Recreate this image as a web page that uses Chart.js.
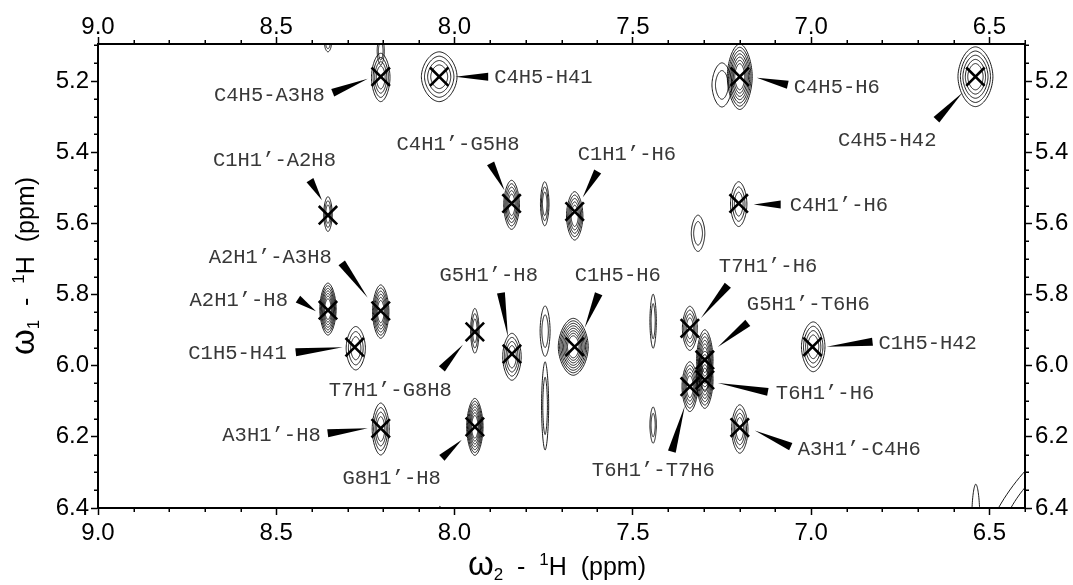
<!DOCTYPE html>
<html>
<head>
<meta charset="utf-8">
<script src="https://cdn.jsdelivr.net/npm/chart.js@4.4.1/dist/chart.umd.min.js"></script>
<style>
  html, body { margin: 0; padding: 0; background: #fff; }
  canvas { display: block; }
</style>
</head>
<body>
<canvas id="noesy" width="1073" height="585"></canvas>
<script>
// Axis tick labels (ppm)
const f2TickLabels = [9.0, 8.5, 8.0, 7.5, 7.0, 6.5];
const f1TickLabels = [5.2, 5.4, 5.6, 5.8, 6.0, 6.2, 6.4];

// Assigned NOE cross peaks
const peakNames = [
  'C4H5-A3H8', 'C4H5-H41', 'C4H5-H6', 'C4H5-H42',
  'C1H1\u2019-A2H8', 'C4H1\u2019-G5H8', 'C1H1\u2019-H6', 'C4H1\u2019-H6',
  'A2H1\u2019-A3H8', 'A2H1\u2019-H8', 'C1H5-H41', 'T7H1\u2019-G8H8',
  'G5H1\u2019-H8', 'C1H5-H6', 'T7H1\u2019-H6', 'G5H1\u2019-T6H6',
  'C1H5-H42', 'T6H1\u2019-H6', 'T6H1\u2019-T7H6', 'A3H1\u2019-C4H6',
  'A3H1\u2019-H8', 'G8H1\u2019-H8'
];
const peakF2 = [
  8.207, 8.043, 7.200, 6.539,
  8.355, 7.840, 7.663, 7.203,
  8.207, 8.355, 8.280, 7.943,
  7.839, 7.663, 7.340, 7.298,
  6.996, 7.298, 7.340, 7.200,
  8.207, 7.943
];
const peakF1 = [
  5.188, 5.188, 5.188, 5.188,
  5.577, 5.544, 5.567, 5.544,
  5.846, 5.844, 5.948, 5.905,
  5.967, 5.947, 5.895, 5.984,
  5.947, 6.040, 6.059, 6.174,
  6.176, 6.172
];

// Contoured resonances: centre (ppm), half widths (ppm), contour levels, tilt (deg)
const contourF2 = [
  8.207, 8.207, 8.043, 7.200, 7.250, 6.539,
  8.355, 7.840, 7.747, 7.663, 7.203, 7.317,
  8.355, 8.207, 8.277, 7.943, 7.839, 7.746,
  7.667, 7.443, 7.340, 7.340, 7.298, 7.298,
  6.994, 8.207, 7.943, 7.746, 7.443, 7.200,
  8.355, 8.041, 6.538, 6.374
];
const contourF1 = [
  5.190, 5.115, 5.188, 5.188, 5.211, 5.188,
  5.574, 5.548, 5.545, 5.579, 5.546, 5.628,
  5.841, 5.848, 5.951, 5.902, 5.975, 5.903,
  5.947, 5.875, 5.895, 6.059, 5.984, 6.040,
  5.947, 6.178, 6.172, 6.113, 6.167, 6.178,
  5.093, 6.420, 6.420, 6.398
];
const contourHalfF2 = [
  0.026, 0.010, 0.050, 0.035, 0.028, 0.049,
  0.012, 0.022, 0.012, 0.023, 0.023, 0.019,
  0.023, 0.023, 0.027, 0.012, 0.026, 0.014,
  0.042, 0.009, 0.021, 0.022, 0.023, 0.023,
  0.033, 0.024, 0.023, 0.010, 0.009, 0.023,
  0.010, 0.004, 0.011, 0.224
];
const contourHalfF1 = [
  0.068, 0.040, 0.070, 0.092, 0.062, 0.084,
  0.049, 0.069, 0.062, 0.068, 0.063, 0.051,
  0.073, 0.075, 0.061, 0.063, 0.066, 0.071,
  0.080, 0.076, 0.062, 0.070, 0.085, 0.080,
  0.070, 0.073, 0.080, 0.124, 0.051, 0.068,
  0.025, 0.025, 0.087, 0.084
];
const contourLevels = [
  4, 2, 4, 7, 2, 5,
  3, 5, 3, 5, 3, 2,
  7, 6, 3, 3, 4, 2,
  8, 2, 4, 5, 6, 6,
  4, 4, 7, 2, 2, 4,
  2, 1, 1, 2
];
const contourTilt = [
  0, 0, 0, 0, 0, 0,
  0, 0, 0, 0, 0, 0,
  0, 0, 0, 0, 0, 0,
  0, 0, 0, 0, 0, 0,
  0, 0, 0, 0, 0, 0,
  0, 0, 0, -54.6
];

// Callout layout per peak, pixel offsets from the cross mark:
// [text align, text dx, text dy, wedge base dx, dy, wedge tip dx, dy]
const calloutLayout = [
  ['right', -56, 18, -48, 16, -13, 2],
  ['left', 55, 0, 49, 0, 16, 0],
  ['left', 54, 10, 48, 8, 17, 1],
  ['right', -39, 63, -39, 43, -13, 16],
  ['right', 8, -55, -18, -35, -6, -15],
  ['right', 8, -59, -21, -40, -7, -13],
  ['left', 3, -58, 23, -40, 8, -14],
  ['left', 51, 2, 42, 1, 15, 1],
  ['right', -49, -54, -39, -48, -13, -13],
  ['right', -40, -10, -30, -11, -12, 1],
  ['right', -68, 6, -59, 5, -12, 0],
  ['right', -23, 58, -33, 37, -12, 13],
  ['right', 26, -79, -11, -61, -4, -17],
  ['left', 0, -72, 24, -53, 10, -19],
  ['left', 29, -62, 38, -43, 11, -10],
  ['left', 42, -56, 43, -37, 13, -13],
  ['left', 66, -4, 60, -5, 14, 0],
  ['left', 71, 13, 63, 12, 13, 3],
  ['right', 25, 83, -18, 65, -5, 19],
  ['left', 58, 21, 51, 19, 15, 3],
  ['right', -60, 7, -53, 5, -13, 0],
  ['right', -34, 51, -33, 31, -13, 13]
];

const SANS = "'Liberation Sans', Arial, Helvetica, sans-serif";
const MONO = "'Liberation Mono', 'Courier New', monospace";

// Nested contour lines for every resonance, clipped to the plot area
const contourPlugin = {
  id: 'contours',
  beforeDatasetsDraw(chart) {
    const { ctx, chartArea: a, scales: { x, y } } = chart;
    ctx.save();
    ctx.beginPath();
    ctx.rect(a.left, a.top, a.right - a.left, a.bottom - a.top);
    ctx.clip();
    ctx.strokeStyle = '#000';
    ctx.lineWidth = 0.9;
    ctx.lineJoin = 'round';
    for (let i = 0; i < contourF2.length; i++) {
      const cx = x.getPixelForValue(contourF2[i]);
      const cy = y.getPixelForValue(contourF1[i]);
      const rx = Math.abs(x.getPixelForValue(contourF2[i] + contourHalfF2[i]) - cx);
      const ry = Math.abs(y.getPixelForValue(contourF1[i] + contourHalfF1[i]) - cy);
      const tilt = contourTilt[i] * Math.PI / 180;
      const expo = tilt === 0 ? 1.8 : 2;
      const n = contourLevels[i];
      for (let k = 0; k < n; k++) {
        const f = 1 - 0.7 * k / n;
        ctx.beginPath();
        const steps = 96;
        for (let s = 0; s <= steps; s++) {
          const t = (s / steps) * Math.PI * 2;
          const c = Math.cos(t), sn = Math.sin(t);
          const ex = rx * f * Math.sign(c) * Math.pow(Math.abs(c), 2 / expo);
          const ey = ry * f * Math.sign(sn) * Math.pow(Math.abs(sn), 2 / expo);
          const px = cx + ex * Math.cos(tilt) - ey * Math.sin(tilt);
          const py = cy + ex * Math.sin(tilt) + ey * Math.cos(tilt);
          if (s === 0) ctx.moveTo(px, py); else ctx.lineTo(px, py);
        }
        ctx.closePath();
        ctx.stroke();
      }
    }
    ctx.restore();
  }
};

// Assignment labels with wedge pointers
const calloutPlugin = {
  id: 'callouts',
  afterDatasetsDraw(chart) {
    const { ctx, scales: { x, y } } = chart;
    ctx.save();
    ctx.font = '20.5px ' + MONO;
    ctx.textBaseline = 'alphabetic';
    for (let i = 0; i < peakNames.length; i++) {
      const px = x.getPixelForValue(peakF2[i]);
      const py = y.getPixelForValue(peakF1[i]);
      const [align, tx, ty, bx, by, kx, ky] = calloutLayout[i];
      ctx.fillStyle = '#383838';
      ctx.textAlign = align;
      ctx.fillText(peakNames[i], px + tx, py + ty + 6);
      // wedge: wide end at the label, sharp tip at the peak
      const bX = px + bx, bY = py + by, tX = px + kx, tY = py + ky;
      const dx = tX - bX, dy = tY - bY, len = Math.hypot(dx, dy);
      const nx = -dy / len * 4, ny = dx / len * 4;
      ctx.fillStyle = '#000';
      ctx.beginPath();
      ctx.moveTo(bX + nx, bY + ny);
      ctx.lineTo(tX, tY);
      ctx.lineTo(bX - nx, bY - ny);
      ctx.closePath();
      ctx.fill();
    }
    ctx.restore();
  }
};

// Minor ticks on all four frame sides
const minorTickPlugin = {
  id: 'minorTicks',
  afterDraw(chart) {
    const { ctx, chartArea: a, scales: { x, y } } = chart;
    ctx.save();
    ctx.strokeStyle = '#000';
    ctx.lineWidth = 1.5;
    const len = 4;
    ctx.beginPath();
    for (let k = 64; k <= 90; k++) {
      if (k % 5 === 0) continue;
      const px = Math.round(x.getPixelForValue(k / 10)) + 0.25;
      ctx.moveTo(px, a.bottom); ctx.lineTo(px, a.bottom + len);
      ctx.moveTo(px, a.top); ctx.lineTo(px, a.top - len);
    }
    for (let k = 102; k <= 128; k++) {
      if (k % 4 === 0) continue;
      const py = Math.round(y.getPixelForValue(k / 20)) + 0.25;
      ctx.moveTo(a.left, py); ctx.lineTo(a.left - len, py);
      ctx.moveTo(a.right, py); ctx.lineTo(a.right + len, py);
    }
    ctx.stroke();
    ctx.restore();
  }
};

// Axis titles with sub/superscripts
function drawRich(ctx, parts, cx, baseY) {
  let total = 0;
  for (const p of parts) { ctx.font = p.size + 'px ' + SANS; total += ctx.measureText(p.t).width; }
  let xPos = cx - total / 2;
  ctx.textAlign = 'left';
  ctx.textBaseline = 'alphabetic';
  for (const p of parts) {
    ctx.font = p.size + 'px ' + SANS;
    ctx.fillText(p.t, xPos, baseY + p.dy);
    xPos += ctx.measureText(p.t).width;
  }
}
function titleParts(sub) {
  return [
    { t: '\u03c9', size: 33, dy: 0 },
    { t: sub, size: 17, dy: 5 },
    { t: '  -  ', size: 25, dy: 0 },
    { t: '1', size: 17, dy: -10 },
    { t: 'H  (ppm)', size: 25, dy: 0 }
  ];
}
const titlePlugin = {
  id: 'axisTitles',
  afterDraw(chart) {
    const { ctx } = chart;
    ctx.save();
    ctx.fillStyle = '#000';
    drawRich(ctx, titleParts('2'), 557, 575);
    ctx.translate(34, 266);
    ctx.rotate(-Math.PI / 2);
    drawRich(ctx, titleParts('1'), 0, 0);
    ctx.restore();
  }
};

function axisScale(axis, position, ticks, size, pad) {
  const horizontal = axis === 'x';
  return {
    type: 'linear',
    axis: axis,
    position: position,
    reverse: true,
    min: horizontal ? 6.4 : 5.096,
    max: horizontal ? 9.0 : 6.4,
    afterBuildTicks: s => { s.ticks = ticks.map(v => ({ value: v })); },
    afterFit: s => { if (horizontal) s.height = size; else s.width = size; },
    grid: {
      drawOnChartArea: false,
      drawTicks: true,
      tickLength: 7,
      tickWidth: 1.5,
      tickColor: '#000'
    },
    border: { display: true, color: '#000', width: 2 },
    ticks: {
      autoSkip: false,
      maxRotation: 0,
      padding: pad,
      color: '#000',
      font: { family: SANS, size: 24 },
      callback: v => Number(v).toFixed(1)
    }
  };
}

new Chart(document.getElementById('noesy'), {
  type: 'scatter',
  data: {
    datasets: [{
      data: peakF2.map((v, i) => ({ x: v, y: peakF1[i] })),
      xAxisID: 'x',
      yAxisID: 'y',
      pointStyle: 'crossRot',
      pointRadius: 13,
      borderWidth: 2.6,
      borderColor: '#000',
      backgroundColor: '#000'
    }]
  },
  options: {
    responsive: false,
    animation: false,
    events: [],
    layout: { padding: 0 },
    plugins: { legend: { display: false }, tooltip: { enabled: false } },
    scales: {
      x: axisScale('x', 'bottom', f2TickLabels, 77, 4),
      xTop: axisScale('x', 'top', f2TickLabels, 44, -5),
      y: axisScale('y', 'left', f1TickLabels, 98, 2),
      yRight: axisScale('y', 'right', f1TickLabels, 48, 3)
    }
  },
  plugins: [contourPlugin, calloutPlugin, minorTickPlugin, titlePlugin]
});
</script>
</body>
</html>
